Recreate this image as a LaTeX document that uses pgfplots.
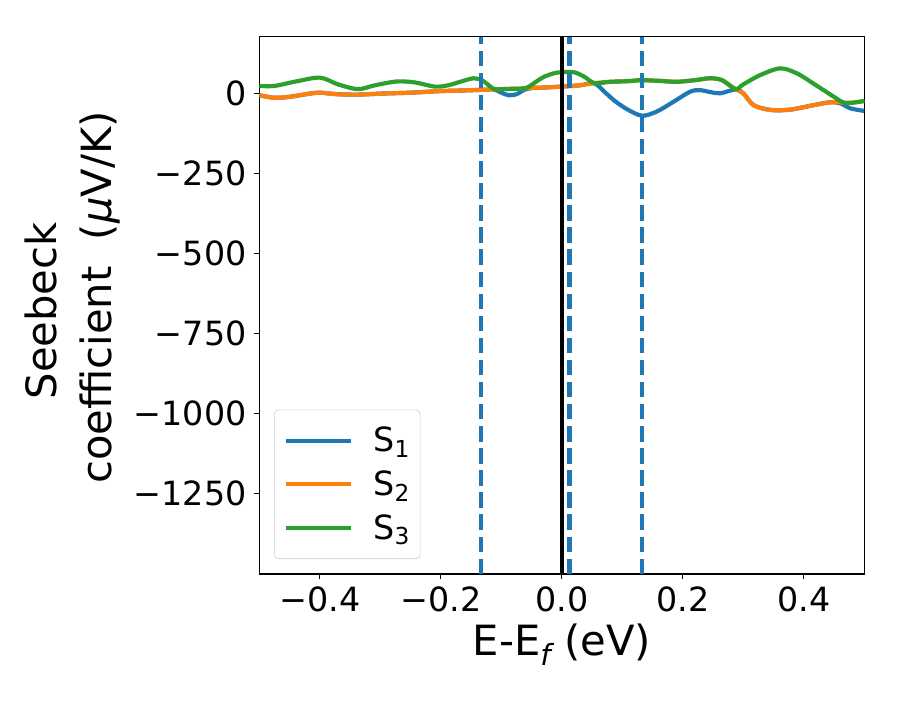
\documentclass[border=0pt]{standalone}
\usepackage{fontspec}
\setmainfont{DejaVu Sans}
\usepackage{pgfplots}
\usepackage{pgfplotstable}
\pgfplotsset{compat=1.18}
\definecolor{c1}{HTML}{1F77B4}
\definecolor{c2}{HTML}{FF7F0E}
\definecolor{c3}{HTML}{2CA02C}

\pgfplotstableread{
E S
-0.500 -6
-0.475 -14
-0.450 -11
-0.420 -2
-0.400 2
-0.370 -3
-0.335 -4
-0.300 -1
-0.250 2
-0.200 7
-0.160 9
-0.130 11
-0.112 12
-0.100 2
-0.088 -6
-0.075 -3
-0.062 11
-0.048 17
-0.030 18
0.000 21
0.030 25
0.054 31
0.072 2
0.089 -26
0.110 -52
0.133 -70
0.157 -57
0.185 -26
0.212 5
0.228 10
0.245 4
0.262 0
0.287 12
0.300 0
0.317 -37
0.345 -52
0.378 -51
0.416 -37
0.444 -28
0.461 -32
0.477 -47
0.500 -55
}\sone

\pgfplotstableread{
E S
-0.500 -6
-0.475 -14
-0.450 -11
-0.420 -2
-0.400 2
-0.370 -3
-0.335 -4
-0.300 -1
-0.250 2
-0.200 7
-0.160 9
-0.130 11
-0.112 12
-0.100 13
-0.085 14
-0.065 15
-0.048 17
-0.030 18
0.000 21
0.030 25
0.054 32
0.080 36
0.110 38
0.131 41
0.160 39
0.190 36
0.220 41
0.245 47
0.265 41
0.287 13
0.300 0
0.317 -37
0.345 -52
0.378 -51
0.416 -37
0.444 -28
0.466 -29
0.482 -29
0.500 -24
}\stwo

\pgfplotstableread{
E S
-0.500 23
-0.475 23
-0.442 36
-0.400 49
-0.370 28
-0.337 13
-0.309 25
-0.273 37
-0.243 34
-0.210 21
-0.188 25
-0.168 36
-0.146 47
-0.132 41
-0.122 27
-0.112 13
-0.100 13
-0.085 14
-0.065 15
-0.055 20
-0.045 33
-0.029 52
-0.012 63
0.000 66
0.020 66
0.037 52
0.054 32
0.080 36
0.110 38
0.131 41
0.160 39
0.190 36
0.220 41
0.245 47
0.265 41
0.287 13
0.300 28
0.328 57
0.361 78
0.389 62
0.422 23
0.449 -10
0.466 -29
0.482 -29
0.500 -24
}\sthree

\begin{document}
\begin{tikzpicture}
\path (0,0) rectangle (648pt,504pt);
\begin{axis}[
  at={(186.7pt,90.7pt)}, anchor=south west,
  scale only axis, width=435.6pt, height=386.9pt,
  xmin=-0.5, xmax=0.5, ymin=-1502, ymax=177,
  axis line style={line width=0.8pt},
  tick align=outside, major tick length=3.5pt,
  every tick/.style={black, line width=0.8pt},
  xtick pos=lower, ytick pos=left,
  xtick={-0.4,-0.2,0,0.2,0.4},
  xticklabels={−0.4,−0.2,0.0,0.2,0.4},
  ytick={-1250,-1000,-750,-500,-250,0},
  yticklabels={−1250,−1000,−750,−500,−250,0},
  tick label style={font=\fontsize{24}{29}\selectfont, inner sep=0pt},
  xticklabel style={anchor=north, yshift=-5.6pt},
  yticklabel style={anchor=east, xshift=-5.5pt},
  legend cell align=left,
  legend style={at={(axis description cs:0,0)}, anchor=south west,
    xshift=10.6pt, yshift=10.8pt,
    draw=black!20, rounded corners=3pt, fill=white, fill opacity=0.8, text opacity=1,
    font=\fontsize{24}{29}\selectfont,
    inner xsep=7.2pt, inner ysep=12.4pt, row sep=12.2pt, column sep=14.4pt,
    nodes={inner sep=0pt}},
  legend image code/.code={\draw[#1, line width=3pt] (0pt,0pt) -- (46.8pt,0pt);},
]
\addplot[c1, line width=3pt, smooth, tension=0.5] table[x=E,y=S] {\sone};
\addlegendentry{S\textsubscript{1}\hspace{1pt}}
\addplot[c2, line width=3pt, smooth, tension=0.5] table[x=E,y=S] {\stwo};
\addlegendentry{S\textsubscript{2}\hspace{1pt}}
\addplot[c3, line width=3pt, smooth, tension=0.5] table[x=E,y=S] {\sthree};
\addlegendentry{S\textsubscript{3}\hspace{1pt}}
\addplot[forget plot, black, line width=3pt] coordinates {(0,-1502) (0,177)};
\addplot[forget plot, c1, line width=3pt, dash pattern=on 11.1pt off 4.8pt] coordinates {(-0.1335,-1502) (-0.1335,177)};
\addplot[forget plot, c1, line width=3pt, dash pattern=on 11.1pt off 4.8pt] coordinates {(0.0127,-1502) (0.0127,177)};
\addplot[forget plot, c1, line width=3pt, dash pattern=on 11.1pt off 4.8pt] coordinates {(0.1325,-1502) (0.1325,177)};
\end{axis}
\node[rotate=90, anchor=base, font=\fontsize{30}{36}\selectfont] at (40.8pt,280.1pt) {Seebeck};
\node[rotate=90, anchor=base, font=\fontsize{30}{36}\selectfont] at (80.4pt,289.8pt) {coefficient\ \ ({\itshape μ}V/K)};
\node[anchor=base, font=\fontsize{30}{36}\selectfont] at (404.6pt,32.4pt) {E-E\textsubscript{\itshape f} (eV)};
\end{tikzpicture}
\end{document}
